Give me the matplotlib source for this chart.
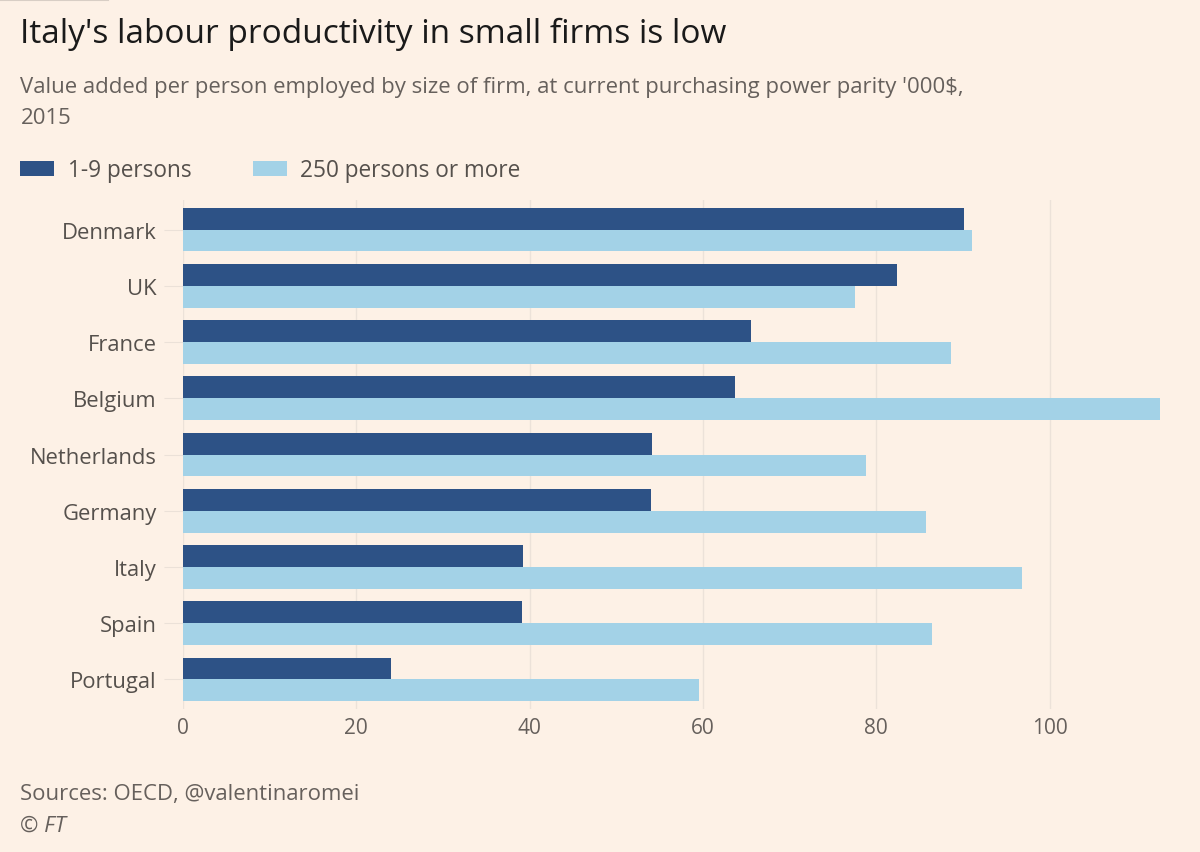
import matplotlib.pyplot as plt
import numpy as np

countries = ["Denmark", "UK", "France", "Belgium", "Netherlands", "Germany", "Italy", "Spain", "Portugal"]
small_firms = [90.1, 82.4, 65.6, 63.7, 54.1, 54.0, 39.2, 39.1, 24.0]
large_firms = [91.1, 77.6, 88.6, 112.8, 78.8, 85.8, 96.8, 86.4, 59.6]
xticks = [0, 20, 40, 60, 80, 100]

BG = "#FDF1E6"
DARK = "#2D5286"
LIGHT = "#A3D2E7"
TXT = "#66605C"

plt.rcParams['font.family'] = ['Open Sans', 'DejaVu Sans']

fig = plt.figure(figsize=(12, 8.53), dpi=100, facecolor=BG)
ax = fig.add_axes([0.1525, 0.168, 0.816, 0.596])
ax.set_facecolor(BG)

y = np.arange(len(countries))
h = 0.39
ax.barh(y - h/2, small_firms, height=h, color=DARK, label="1-9 persons", zorder=3)
ax.barh(y + h/2, large_firms, height=h, color=LIGHT, label="250 persons or more", zorder=3)

ax.set_ylim(len(countries) - 0.5 + 0.02, -0.5 - 0.02)
ax.set_xlim(0, 113)
ax.set_yticks(y)
ax.set_yticklabels(countries, fontsize=15.8, color="#55504c")
ax.set_xticks(xticks)
ax.set_xticklabels([str(t) for t in xticks], fontsize=15, color=TXT)
ax.tick_params(axis='y', length=14, color="#ebe1d8", pad=5)
ax.tick_params(axis='x', length=0, pad=6)
ax.grid(axis='x', color="#ece2d9", linewidth=1, zorder=0)
for s in ax.spines.values():
    s.set_visible(False)

fig.text(0.017, 0.960, "Italy's labour productivity in small firms is low", fontsize=24, color="#1a1a1a", va='center')
fig.text(0.017, 0.897, "Value added per person employed by size of firm, at current purchasing power parity '000$,", fontsize=15.9, color=TXT, va='center')
fig.text(0.017, 0.861, "2015", fontsize=15.9, color=TXT, va='center')

fig.legend(loc='center left', bbox_to_anchor=(0.0, 0.799), ncol=2, frameon=False, fontsize=16.3,
           handlelength=1.5, handleheight=0.7, handletextpad=0.6, columnspacing=2.7,
           labelcolor="#55504c")

fig.text(0.017, 0.068, "Sources: OECD, @valentinaromei", fontsize=15.9, color=TXT, va='center')
fig.text(0.017, 0.032, "© FT", fontsize=15.9, color=TXT, va='center', style='italic')

fig.add_artist(plt.Line2D([0.0, 0.09], [0.999, 0.999], color="#d8cec5", linewidth=1.5))

fig.savefig("out.png", dpi=100, facecolor=BG)
